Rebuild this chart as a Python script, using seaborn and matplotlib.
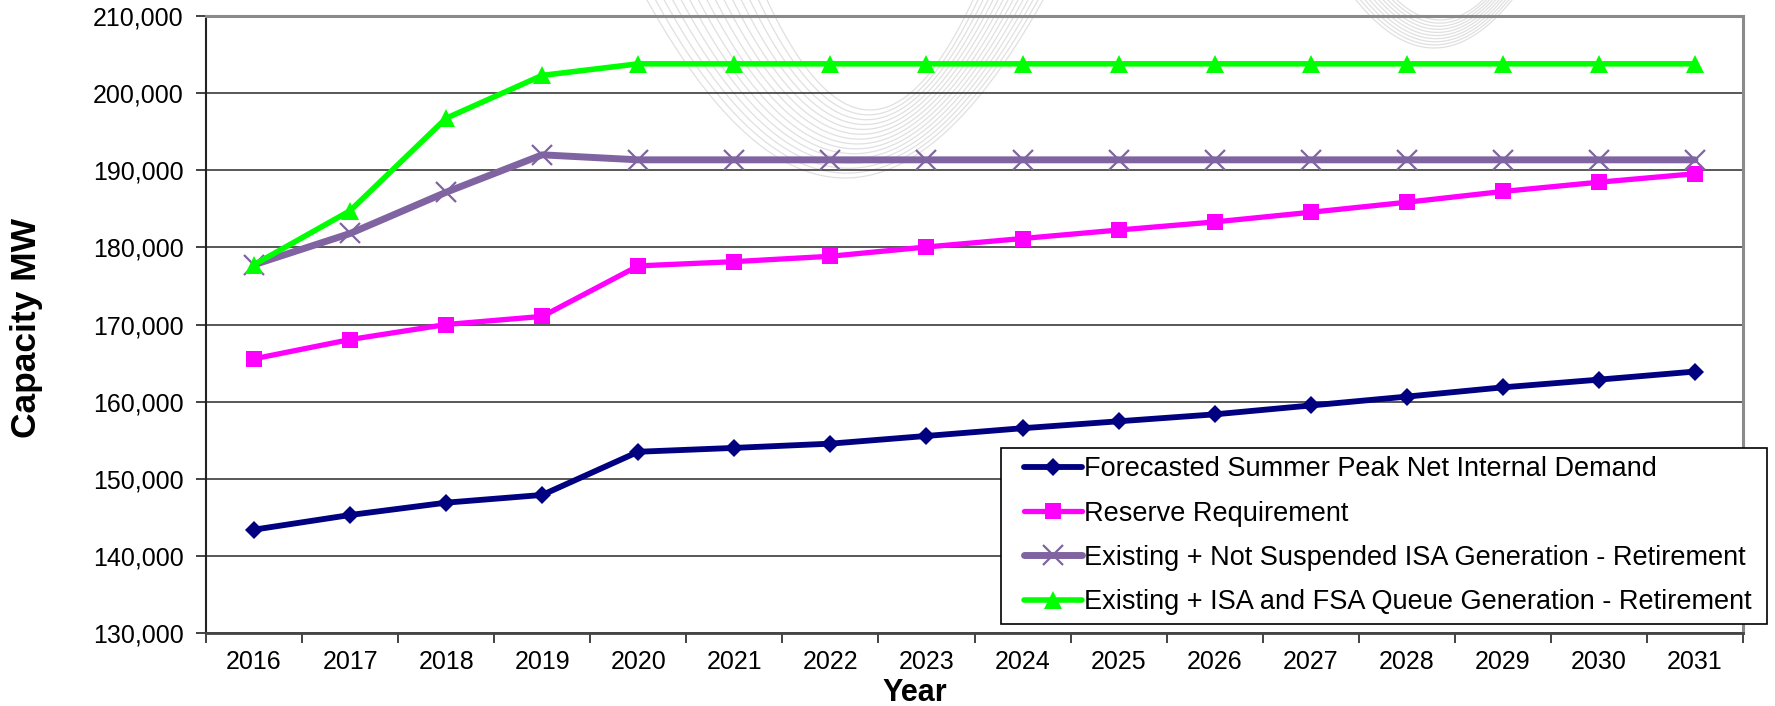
import numpy as np
import pandas as pd
import seaborn as sns
import matplotlib.pyplot as plt
from matplotlib.lines import Line2D
from matplotlib.legend_handler import HandlerLine2D
from matplotlib.ticker import FuncFormatter, FixedLocator, NullFormatter

# ---- data -------------------------------------------------------------
years = [2016, 2017, 2018, 2019, 2020, 2021, 2022, 2023,
         2024, 2025, 2026, 2027, 2028, 2029, 2030, 2031]

peak_demand = [143400, 145300, 146900, 147900, 153500, 154000, 154550, 155550,
               156550, 157450, 158350, 159500, 160650, 161850, 162850, 163900]

reserve_req = [165550, 168050, 170000, 171050, 177600, 178150, 178850, 180050,
               181150, 182250, 183300, 184550, 185850, 187250, 188450, 189550]

not_suspended_isa = [177750, 181800, 187150, 192000, 191350, 191350, 191350, 191350,
                     191350, 191350, 191350, 191350, 191350, 191350, 191350, 191350]

isa_fsa_queue = [177750, 184750, 196750, 202300, 203800, 203800, 203800, 203800,
                 203800, 203800, 203800, 203800, 203800, 203800, 203800, 203800]

series_names = [
    "Forecasted Summer Peak Net Internal Demand",
    "Reserve Requirement",
    "Existing + Not Suspended ISA Generation - Retirement",
    "Existing + ISA and FSA Queue Generation - Retirement",
]
y_ticks = [130000, 140000, 150000, 160000, 170000, 180000, 190000, 200000, 210000]

# ---- styling ----------------------------------------------------------
sns.set_theme(style="white")
plt.rcParams["font.family"] = ["Liberation Sans", "DejaVu Sans"]
plt.rcParams["text.color"] = "black"
plt.rcParams["axes.labelcolor"] = "black"
plt.rcParams["xtick.color"] = "black"
plt.rcParams["ytick.color"] = "black"

styles = {
    series_names[0]: dict(color="#000080", marker="D", ms=9.5, lw=4.2, mew=0),
    series_names[1]: dict(color="#FF00FF", marker="s", ms=11.5, lw=3.8, mew=0),
    series_names[2]: dict(color="#8064A2", marker="x", ms=14.5, lw=5.0, mew=1.6),
    series_names[3]: dict(color="#00FF00", marker="^", ms=12.5, lw=4.0, mew=0),
}

df = pd.DataFrame({
    "idx": np.tile(np.arange(len(years)), 4),
    "value": peak_demand + reserve_req + not_suspended_isa + isa_fsa_queue,
    "series": np.repeat(series_names, len(years)),
})

W, H = 1775, 706
fig = plt.figure(figsize=(W / 100, H / 100), dpi=100)

# faint swirl logo behind the plot area
bg = fig.add_axes([0, 0, 1, 1], zorder=0)
bg.set_xlim(0, W)
bg.set_ylim(H, 0)
bg.axis("off")
xs = np.linspace(0, W, 2000)
n1 = 15
for i in range(n1):
    t = i / (n1 - 1)
    cx = 845 + 25 * t
    y0 = 178 - 68 * t
    hw = 198 - 95 * t
    y = y0 - y0 * ((xs - cx) / hw) ** 2
    m = (y > -5) & (y <= y0 + 1)
    bg.plot(xs[m], y[m], color="#e0e0e0", lw=0.9)
n2 = 10
for i in range(n2):
    t = i / (n2 - 1)
    cx = 1434 + 6 * t
    y0 = 48 - 28 * t
    hw = 78 - 35 * t
    y = y0 - y0 * ((xs - cx) / hw) ** 2
    m = (y > -5) & (y <= y0 + 1)
    bg.plot(xs[m], y[m], color="#e0e0e0", lw=0.9)

ax = fig.add_axes([206 / W, 1 - 633 / H, (1743 - 206) / W, (633 - 16) / H], zorder=1)
ax.patch.set_alpha(0)

for name in series_names:
    st = styles[name]
    sub = df[df["series"] == name]
    sns.lineplot(data=sub, x="idx", y="value", ax=ax, color=st["color"], lw=st["lw"],
                 marker=st["marker"], markersize=st["ms"], markeredgewidth=st["mew"],
                 markeredgecolor=st["color"], label=name, zorder=3)

# axes limits and ticks (category-style x axis)
ax.set_xlim(-0.5, len(years) - 0.5)
ax.set_ylim(y_ticks[0], y_ticks[-1])
ax.set_xticks(np.arange(len(years)))
ax.set_xticklabels([str(y) for y in years])
ax.xaxis.set_minor_locator(FixedLocator(np.arange(-0.5, len(years), 1.0)))
ax.xaxis.set_minor_formatter(NullFormatter())
ax.tick_params(axis="x", which="major", length=0, pad=12, labelsize=18, colors="black")
ax.tick_params(axis="x", which="minor", length=7, width=1.2, direction="out",
               color="#222222", bottom=True)
ax.set_yticks(y_ticks)
ax.yaxis.set_major_formatter(FuncFormatter(lambda v, p: f"{int(v):,}"))
ax.tick_params(axis="y", length=7, width=1.2, direction="out", pad=9,
               labelsize=18, color="#222222", labelcolor="black", left=True)

ax.grid(axis="y", color="#2a2a2a", lw=1.1)
ax.set_axisbelow(True)
for side in ("top", "right"):
    ax.spines[side].set_color("#8a8a8a")
    ax.spines[side].set_linewidth(2.2)
ax.spines["left"].set_color("#222222")
ax.spines["left"].set_linewidth(1.5)
ax.spines["bottom"].set_color("#444444")
ax.spines["bottom"].set_linewidth(2.0)

ax.set_xlabel("")
ax.set_ylabel("")
fig.text(27 / W, 1 - 328 / H, "Capacity MW", rotation=90, fontsize=25.5,
         fontweight="bold", ha="center", va="center")
fig.text(915 / W, 1 - 693 / H, "Year", fontsize=22, fontweight="bold",
         ha="center", va="center")

leg = ax.legend(loc="upper left", bbox_to_anchor=(1001 / W, 1 - 624 / H, 766 / W, 176 / H),
                bbox_transform=fig.transFigure, mode="expand", fontsize=19.5,
                frameon=True, fancybox=False, framealpha=1, edgecolor="black",
                borderaxespad=0, handlelength=2.7, handletextpad=0.05,
                labelspacing=0.68, borderpad=0.3,
                handler_map={Line2D: HandlerLine2D(xpad=0.55)})
leg.get_frame().set_linewidth(1.2)

fig.savefig("out.png", dpi=100)
